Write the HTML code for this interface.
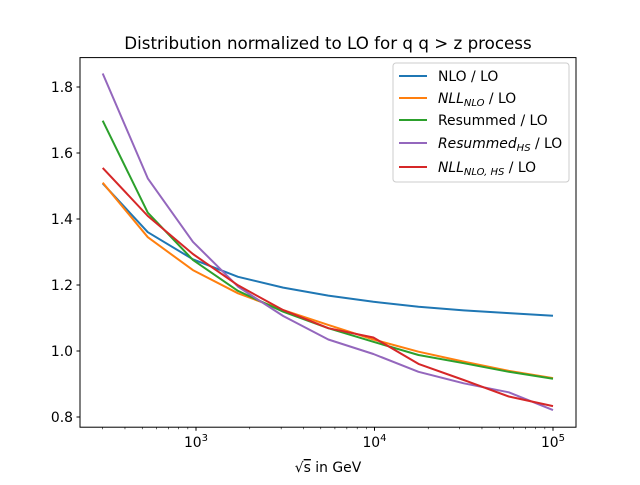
<!DOCTYPE html>
<html><head><meta charset="utf-8"><style>
body{margin:0;background:#fff;}
svg{font-family:"DejaVu Sans","Liberation Sans",sans-serif;}
</style></head><body>
<svg id="chart" width="640" height="480" xmlns="http://www.w3.org/2000/svg">
<rect width="640" height="480" fill="#fff"/>
<text x="328" y="49" text-anchor="middle" font-size="16.7">Distribution normalized to LO for q q &gt; z process</text>
<g id="plot"></g>
<g id="axes"></g>
<rect x="80" y="57.6" width="496" height="369.6" fill="none" stroke="#000" stroke-width="1"/>
<text x="328" y="472" text-anchor="middle" font-size="13.9">√<tspan text-decoration="overline">s</tspan> in GeV</text>
<g>
<rect x="393" y="63" width="176" height="119" rx="3" fill="#fff" fill-opacity="0.8" stroke="#ccc"/>
<g id="legend"></g>
</g>
</svg>
<script>
const energies=[300,537,961,1720,3080,5510,9860,17650,31600,56560,100000];
const nloLO=[1.508,1.360,1.278,1.225,1.192,1.168,1.149,1.134,1.123,1.115,1.107];
const nllNloLO=[1.510,1.345,1.245,1.175,1.124,1.079,1.035,0.998,0.968,0.940,0.918];
const resummedLO=[1.698,1.419,1.276,1.182,1.119,1.069,1.028,0.988,0.963,0.937,0.916];
const resummedHsLO=[1.841,1.523,1.331,1.195,1.106,1.035,0.991,0.937,0.902,0.875,0.821];
const nllNloHsLO=[1.555,1.409,1.294,1.199,1.124,1.069,1.041,0.961,0.912,0.862,0.833];
const yTicks=[0.8,1.0,1.2,1.4,1.6,1.8];
const xMajor=[3,4,5];
const names=["NLO / LO","NLL_NLO / LO","Resummed / LO","Resummed_HS / LO","NLL_NLO,HS / LO"];
const ns="http://www.w3.org/2000/svg";
function xs(v){return 196+(Math.log10(v)-3)*178.5;}
function ys(v){return 417-(v-0.8)*330;}
function mk(t,a,p){const e=document.createElementNS(ns,t);for(const k in a)e.setAttribute(k,a[k]);p.appendChild(e);return e;}
const plot=document.getElementById('plot'),axes=document.getElementById('axes'),leg=document.getElementById('legend');
const series=[nloLO,nllNloLO,resummedLO,resummedHsLO,nllNloHsLO];
const colors=["#1f77b4","#ff7f0e","#2ca02c","#9467bd","#d62728"];
const keys=["nlo","nll-nlo","resummed","resummed-hs","nll-nlo-hs"];
series.forEach((s,i)=>{
  const d=s.map((v,j)=>(j?'L':'M')+xs(energies[j]).toFixed(1)+' '+ys(v).toFixed(1)).join(' ');
  const p=mk('path',{d:d,fill:'none',stroke:colors[i],'stroke-width':2,'stroke-linejoin':'round'},plot);
  
  
});
yTicks.forEach(v=>{
  const y=ys(v);
  const l=mk('line',{x1:76.5,x2:80,y1:y,y2:y,stroke:'#000'},axes);
  
  
  const t=mk('text',{x:73,y:y+5,'text-anchor':'end','font-size':13.9},axes);
  t.textContent=v.toFixed(1);
  
  
});
for(let d=2;d<=5;d++){for(let m=2;m<=9;m++){
  const v=m*Math.pow(10,d);const x=xs(v);
  if(x<80||x>576)continue;
  const l=mk('line',{x1:x,x2:x,y1:427.2,y2:429.2,stroke:'#000','stroke-width':0.6},axes);
  
  
}}
xMajor.forEach(e=>{
  const x=xs(Math.pow(10,e));
  const l=mk('line',{x1:x,x2:x,y1:427.2,y2:430.7,stroke:'#000'},axes);
  
  
  const t=mk('text',{x:x,y:447,'text-anchor':'middle','font-size':13.9},axes);
  t.innerHTML='10<tspan dy="-6" font-size="10">'+e+'</tspan>';
  
  
});
const labels=[
 'NLO / LO',
 '<tspan font-style="italic">NLL</tspan><tspan font-style="italic" font-size="10" dy="3">NLO</tspan><tspan dy="-3"> / LO</tspan>',
 'Resummed / LO',
 '<tspan font-style="italic">Resummed</tspan><tspan font-style="italic" font-size="10" dy="3">HS</tspan><tspan dy="-3"> / LO</tspan>',
 '<tspan font-style="italic">NLL</tspan><tspan font-style="italic" font-size="10" dy="3">NLO, HS</tspan><tspan dy="-3"> / LO</tspan>'];
const ly=[76,98,120,143,167];
labels.forEach((h,i)=>{
  const l=mk('line',{x1:399,x2:427,y1:ly[i],y2:ly[i],stroke:colors[i],'stroke-width':2},leg);
  
  
  const t=mk('text',{x:438,y:ly[i]+5,'font-size':13.9},leg);
  t.innerHTML=h;
  
  
});
</script>
</body></html>
